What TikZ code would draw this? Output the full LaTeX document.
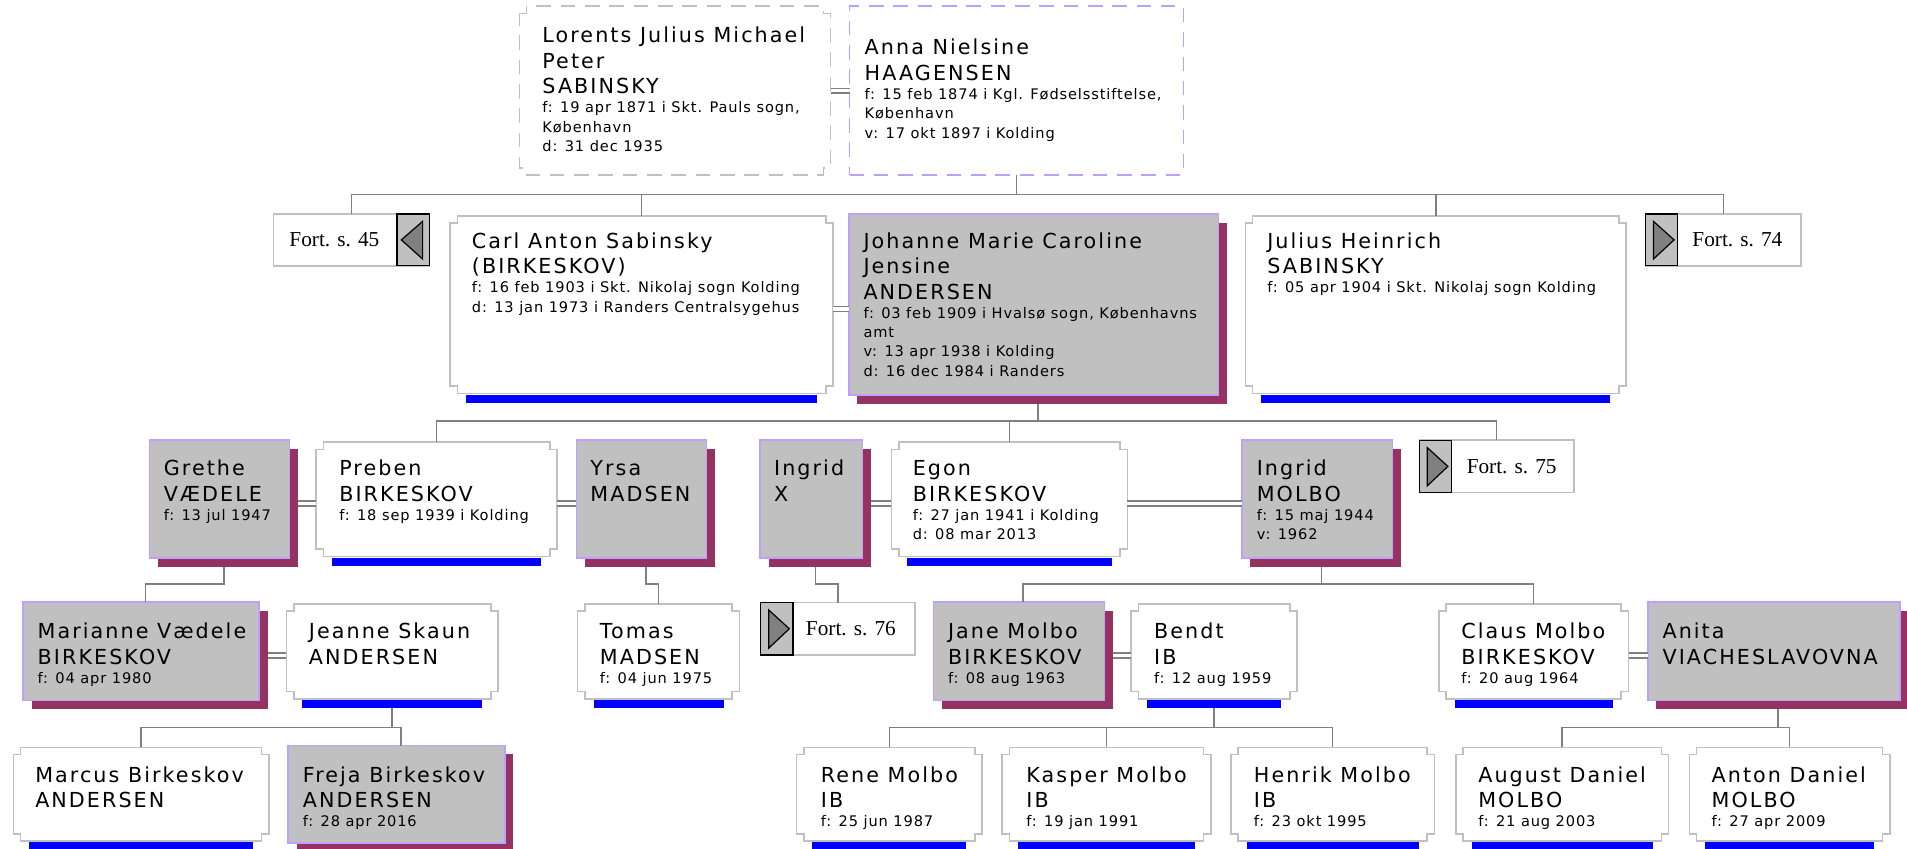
\documentclass[tikz,border=0pt]{standalone}
\usepackage{fontspec}
\usetikzlibrary{calc}
\newfontfamily\NmFam[LetterSpace=10]{DejaVu Sans}
\newfontfamily\DtFam[LetterSpace=6]{DejaVu Sans}
\newfontfamily\FortFam{Liberation Serif}
\newcommand\NmFont{\NmFam\fontsize{17pt}{21pt}\selectfont}
\newcommand\DtFont{\DtFam\fontsize{12pt}{15.8pt}\selectfont}
\newcommand\NmL[1]{\hbox{\NmFont #1}}
\newcommand\DtL[1]{\hbox{\DtFont #1}}
\newcommand\DtSep{\baselineskip=15.8pt\relax}
\definecolor{fgrey}{HTML}{C0C0C0}
\definecolor{lav}{RGB}{190,158,255}
\definecolor{shad}{RGB}{148,50,98}
\definecolor{conn}{HTML}{808080}
\definecolor{mline}{HTML}{C0C0C0}
\definecolor{barc}{HTML}{0000FF}
\tikzset{
 pbox/.style={inner sep=0pt, outer sep=0pt, draw=none},
 fbox/.style={inner sep=0pt, outer sep=0pt, draw=lav, fill=fgrey, line width=1.3pt},
 annabox/.style={inner sep=0pt, outer sep=0pt, draw=lav, fill=white, line width=1.3pt, dash pattern=on 12pt off 8pt},
 maleline/.style={draw=mline, fill=white, line width=1.3pt, line join=miter},
 barfill/.style={fill=barc},
 shadfill/.style={fill=shad},
 conline/.style={draw=conn, line width=1.3pt},
 marr/.style={draw=conn, double=white, double distance=2.8pt, line width=1.1pt},
 fortbox/.style={draw=mline, fill=white, line width=1.3pt, inner sep=0pt, outer sep=0pt},
 arrbox/.style={draw=black, fill=fgrey, line width=1pt, inner sep=0pt, outer sep=0pt},
 tri/.style={draw=black, fill=conn, line width=1pt, line join=miter},
 ptxt/.style={anchor=base west, inner sep=0pt, outer sep=0pt, text=black},
 ftxt/.style={anchor=base west, inner sep=0pt, outer sep=0pt, text=black, font=\FortFam\fontsize{17.5pt}{20pt}\selectfont},
}
% male box: name, x, y, w, h
\newcommand\malebox[5]{%
 \fill[barfill] ({#2+13},{#3+#5+1}) rectangle ({#2+#4-13},{#3+#5+8});
 \node[pbox, minimum width=#4pt, minimum height=#5pt] (#1) at ({#2+#4/2},{#3+#5/2}) {};
 \filldraw[maleline] ({#2},{#3+6}) -- ++(6,0) -- ++(0,-6) -- ({#2+#4-6},{#3}) -- ++(0,6) -- ++(6,0) -- ({#2+#4},{#3+#5-6}) -- ++(-6,0) -- ++(0,6) -- ({#2+6},{#3+#5}) -- ++(0,-6) -- ++(-6,0) -- cycle;
}
% female box: name, x, y, w, h
\newcommand\femalebox[5]{%
 \fill[shadfill] ({#2+7},{#3+7}) rectangle ++(#4,#5);
 \node[fbox, minimum width=#4pt, minimum height=#5pt] (#1) at ({#2+#4/2},{#3+#5/2}) {};
}
% continuation box, arrow at right pointing left
\newcommand\fortL[5]{%
 \node[fortbox, minimum width=#4pt, minimum height=#5pt] (#1) at ({#2+#4/2},{#3+#5/2}) {};
 \node[arrbox, minimum width=26.5pt, minimum height=#5pt] (#1a) at ({#2+#4-13.25},{#3+#5/2}) {};
 \draw[tri] ({#2+#4-23},{#3+#5/2}) -- ({#2+#4-5.5},{#3+6}) -- ({#2+#4-5.5},{#3+#5-5.5}) -- cycle;
}
% continuation box, arrow at left pointing right
\newcommand\fortR[5]{%
 \node[fortbox, minimum width=#4pt, minimum height=#5pt] (#1) at ({#2+#4/2},{#3+#5/2}) {};
 \node[arrbox, minimum width=26.5pt, minimum height=#5pt] (#1a) at ({#2+13.25},{#3+#5/2}) {};
 \draw[tri] ({#2+23.5},{#3+#5/2}) -- ({#2+6.5},{#3+6}) -- ({#2+6.5},{#3+#5-5.5}) -- cycle;
}
\newcommand\ptext[4]{\node[ptxt] (#1) at (#2,#3) {\vtop{\lineskiplimit=-1000pt\lineskip=0pt\baselineskip=21pt #4}};}
\begin{document}
\begin{tikzpicture}[x=1pt,y=-1pt]
\path[use as bounding box] (0,0) rectangle (1568,698);
\clip (0,0) rectangle (1568,698);
\fill[white] (0,0) rectangle (1568,698);

% ---------- row 0
\node[pbox, minimum width=256pt, minimum height=139pt] (lorents) at (555,74.5) {};
\filldraw[maleline, dash pattern=on 12pt off 8pt] (427,11) -- ++(6,0) -- ++(0,-6) -- (677,5) -- ++(0,6) -- ++(6,0) -- (683,138) -- ++(-6,0) -- ++(0,6) -- (433,144) -- ++(0,-6) -- ++(-6,0) -- cycle;
\node[annabox, minimum width=274.5pt, minimum height=139pt] (anna) at (835.75,74.5) {};

% ---------- row 1
\malebox{carl}{370}{177.5}{315}{146}
\femalebox{johanne}{698}{176}{304}{149}
\malebox{julius}{1024}{177.5}{313}{146}
\fortL{fort45}{225}{176}{128}{42.5}
\fortR{fort74}{1353}{176}{128}{42.5}

% ---------- row 2
\femalebox{grethe}{123}{362}{115}{97}
\malebox{preben}{260}{363.5}{198}{94}
\femalebox{yrsa}{474}{362}{107}{97}
\femalebox{ingridx}{625}{362}{84}{97}
\malebox{egon}{733}{363.5}{194}{94}
\femalebox{ingridm}{1021}{362}{124}{97}
\fortR{fort75}{1167}{362}{127}{43}

% ---------- row 3
\femalebox{marianne}{19}{495}{194}{81}
\malebox{jeanne}{235.5}{496.5}{174}{78}
\malebox{tomas}{475}{496.5}{133}{78}
\fortR{fort76}{625.5}{495.5}{127}{43}
\femalebox{jane}{767.5}{495}{140.5}{81}
\malebox{bendt}{930}{496.5}{136.5}{78}
\malebox{claus}{1183}{496.5}{156}{78}
\femalebox{anita}{1355}{495}{207}{81}

% ---------- row 4
\malebox{marcus}{11}{614.5}{210}{77}
\femalebox{freja}{237}{613}{178}{80}
\malebox{rene}{655}{614.5}{152.5}{77}
\malebox{kasper}{824}{614.5}{171.5}{77}
\malebox{henrik}{1012}{614.5}{167.5}{77}
\malebox{august}{1197}{614.5}{175}{77}
\malebox{anton}{1389}{614.5}{165}{77}

% ---------- texts
\ptext{lorentsT}{446}{35}{\NmL{Lorents Julius Michael}\NmL{Peter}\NmL{SABINSKY}\DtSep\DtL{f: 19 apr 1871 i Skt. Pauls sogn,}\DtL{København}\DtL{d: 31 dec 1935}}
\ptext{annaT}{711}{45.2}{\NmL{Anna Nielsine}\NmL{HAAGENSEN}\DtSep\DtL{f: 15 feb 1874 i Kgl. Fødselsstiftelse,}\DtL{København}\DtL{v: 17 okt 1897 i Kolding}}
\ptext{carlT}{388}{204}{\NmL{Carl Anton Sabinsky}\NmL{(BIRKESKOV)}\DtSep\DtL{f: 16 feb 1903 i Skt. Nikolaj sogn Kolding}\DtL{d: 13 jan 1973 i Randers Centralsygehus}}
\ptext{johanneT}{710}{204}{\NmL{Johanne Marie Caroline}\NmL{Jensine}\NmL{ANDERSEN}\DtSep\DtL{f: 03 feb 1909 i Hvalsø sogn, Københavns}\DtL{amt}\DtL{v: 13 apr 1938 i Kolding}\DtL{d: 16 dec 1984 i Randers}}
\ptext{juliusT}{1042}{204}{\NmL{Julius Heinrich}\NmL{SABINSKY}\DtSep\DtL{f: 05 apr 1904 i Skt. Nikolaj sogn Kolding}}

\ptext{gretheT}{134.7}{391}{\NmL{Grethe}\NmL{VÆDELE}\DtSep\DtL{f: 13 jul 1947}}
\ptext{prebenT}{279}{391}{\NmL{Preben}\NmL{BIRKESKOV}\DtSep\DtL{f: 18 sep 1939 i Kolding}}
\ptext{yrsaT}{485.5}{391}{\NmL{Yrsa}\NmL{MADSEN}}
\ptext{ingridxT}{636.5}{391}{\NmL{Ingrid}\NmL{X}}
\ptext{egonT}{750.5}{391}{\NmL{Egon}\NmL{BIRKESKOV}\DtSep\DtL{f: 27 jan 1941 i Kolding}\DtL{d: 08 mar 2013}}
\ptext{ingridmT}{1033.4}{391}{\NmL{Ingrid}\NmL{MOLBO}\DtSep\DtL{f: 15 maj 1944}\DtL{v: 1962}}

\ptext{marianneT}{31}{525}{\NmL{Marianne Vædele}\NmL{BIRKESKOV}\DtSep\DtL{f: 04 apr 1980}}
\ptext{jeanneT}{254}{525}{\NmL{Jeanne Skaun}\NmL{ANDERSEN}}
\ptext{tomasT}{493.3}{525}{\NmL{Tomas}\NmL{MADSEN}\DtSep\DtL{f: 04 jun 1975}}
\ptext{janeT}{779.5}{525}{\NmL{Jane Molbo}\NmL{BIRKESKOV}\DtSep\DtL{f: 08 aug 1963}}
\ptext{bendtT}{949}{525}{\NmL{Bendt}\NmL{IB}\DtSep\DtL{f: 12 aug 1959}}
\ptext{clausT}{1201.6}{525}{\NmL{Claus Molbo}\NmL{BIRKESKOV}\DtSep\DtL{f: 20 aug 1964}}
\ptext{anitaT}{1367}{525}{\NmL{Anita}\NmL{VIACHESLAVOVNA}}

\ptext{marcusT}{29}{643}{\NmL{Marcus Birkeskov}\NmL{ANDERSEN}}
\ptext{frejaT}{249}{643}{\NmL{Freja Birkeskov}\NmL{ANDERSEN}\DtSep\DtL{f: 28 apr 2016}}
\ptext{reneT}{675}{643}{\NmL{Rene Molbo}\NmL{IB}\DtSep\DtL{f: 25 jun 1987}}
\ptext{kasperT}{844}{643}{\NmL{Kasper Molbo}\NmL{IB}\DtSep\DtL{f: 19 jan 1991}}
\ptext{henrikT}{1031}{643}{\NmL{Henrik Molbo}\NmL{IB}\DtSep\DtL{f: 23 okt 1995}}
\ptext{augustT}{1215.5}{643}{\NmL{August Daniel}\NmL{MOLBO}\DtSep\DtL{f: 21 aug 2003}}
\ptext{antonT}{1407.4}{643}{\NmL{Anton Daniel}\NmL{MOLBO}\DtSep\DtL{f: 27 apr 2009}}

\node[ftxt] (fort45t) at (238,202.8) {Fort. s. 45};
\node[ftxt] (fort74t) at (1391.6,202.8) {Fort. s. 74};
\node[ftxt] (fort75t) at (1206,389) {Fort. s. 75};
\node[ftxt] (fort76t) at (662.7,522.3) {Fort. s. 76};

% ---------- descent lines
\coordinate (h0) at (0,160);
\coordinate (h1) at (0,346);
\coordinate (h2) at (0,480);
\coordinate (h3) at (0,598);

\draw[conline] (anna.south) -- (anna.south |- h0);
\draw[conline] (fort45.north) -- (fort45.north |- h0) -- (fort74.north |- h0) -- (fort74.north);
\draw[conline] (carl.north) -- (carl.north |- h0);
\draw[conline] (julius.north) -- (julius.north |- h0);

\coordinate (jod) at ($(johanne.south)+(3.5,7)$);
\draw[conline] (jod) -- (jod |- h1);
\draw[conline] (preben.north) -- (preben.north |- h1) -- (fort75.north |- h1) -- (fort75.north);
\draw[conline] (egon.north) -- (egon.north |- h1);

\coordinate (grd) at ($(grethe.south)+(3.5,7)$);
\coordinate (mat) at ($(marianne.north)+(3.5,0)$);
\draw[conline] (grd) -- (grd |- h2) -- (mat |- h2) -- (mat);
\coordinate (yrd) at ($(yrsa.south)+(3.5,7)$);
\draw[conline] (yrd) -- (yrd |- h2) -- (tomas.north |- h2) -- (tomas.north);
\coordinate (ixd) at ($(ingridx.south)+(3.5,7)$);
\draw[conline] (ixd) -- (ixd |- h2) -- (fort76.north |- h2) -- (fort76.north);
\coordinate (imd) at ($(ingridm.south)+(3.5,7)$);
\coordinate (jat) at ($(jane.north)+(3.5,0)$);
\draw[conline] (imd) -- (imd |- h2);
\draw[conline] (jat) -- (jat |- h2) -- (claus.north |- h2) -- (claus.north);

\coordinate (jnd) at ($(jeanne.south)+(0,8)$);
\coordinate (frt) at ($(freja.north)+(3.5,0)$);
\draw[conline] (jnd) -- (jnd |- h3);
\draw[conline] (marcus.north) -- (marcus.north |- h3) -- (frt |- h3) -- (frt);
\coordinate (bnd) at ($(bendt.south)+(0,8)$);
\draw[conline] (bnd) -- (bnd |- h3);
\draw[conline] (rene.north) -- (rene.north |- h3) -- (henrik.north |- h3) -- (henrik.north);
\draw[conline] (kasper.north) -- (kasper.north |- h3);
\coordinate (and) at ($(anita.south)+(3.5,7)$);
\draw[conline] (and) -- (and |- h3);
\draw[conline] (august.north) -- (august.north |- h3) -- (anton.north |- h3) -- (anton.north);

% ---------- marriages
\coordinate (m0) at (anna.west);
\draw[marr] (m0 -| lorents.east) -- (m0);
\coordinate (m1) at ($(johanne.west)+(0,3.5)$);
\draw[marr] (m1 -| carl.east) -- (m1);
\coordinate (m2) at ($(grethe.east)+(7,3.5)$);
\draw[marr] (m2) -- (m2 -| preben.west);
\coordinate (m3) at ($(yrsa.west)+(0,3.5)$);
\draw[marr] (m3 -| preben.east) -- (m3);
\coordinate (m4) at ($(ingridx.east)+(7,3.5)$);
\draw[marr] (m4) -- (m4 -| egon.west);
\coordinate (m5) at ($(ingridm.west)+(0,3.5)$);
\draw[marr] (m5 -| egon.east) -- (m5);
\coordinate (m6) at ($(marianne.east)+(7,3.5)$);
\draw[marr] (m6) -- (m6 -| jeanne.west);
\coordinate (m7) at ($(jane.east)+(7,3.5)$);
\draw[marr] (m7) -- (m7 -| bendt.west);
\coordinate (m8) at ($(anita.west)+(0,3.5)$);
\draw[marr] (m8 -| claus.east) -- (m8);
\end{tikzpicture}
\end{document}
